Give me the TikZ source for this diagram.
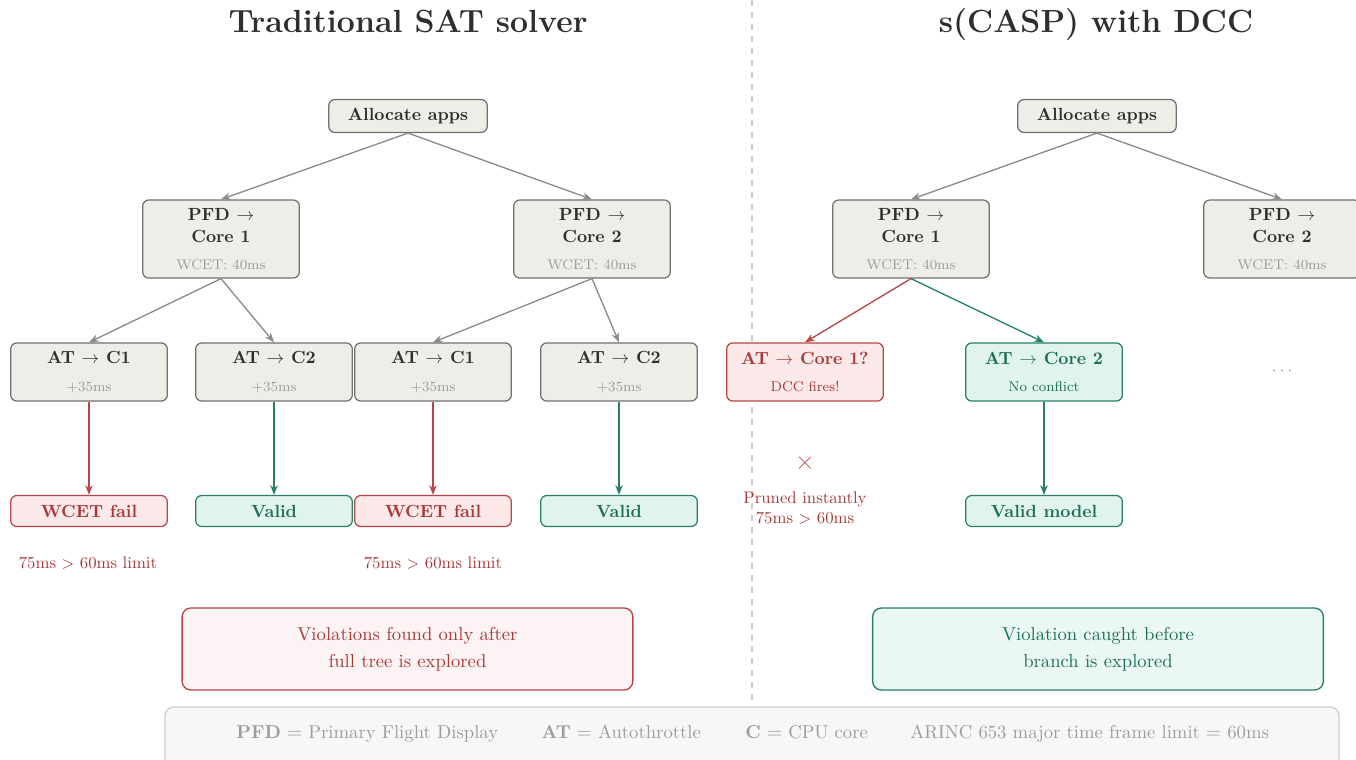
\documentclass[tikz,border=0pt]{standalone}
\usetikzlibrary{arrows.meta}

\definecolor{nodefill}{HTML}{EFEDE7}
\definecolor{nodedraw}{HTML}{707070}
\definecolor{edgegray}{HTML}{8A8A8A}
\definecolor{ink}{HTML}{2E2E2E}
\definecolor{faint}{HTML}{9C9C9C}
\definecolor{badred}{HTML}{A83838}
\definecolor{badline}{HTML}{B84545}
\definecolor{badfill}{HTML}{FBE8E8}
\definecolor{badpale}{HTML}{FCF4F4}
\definecolor{goodgreen}{HTML}{1C6F58}
\definecolor{goodline}{HTML}{24806A}
\definecolor{goodfill}{HTML}{E1F3ED}
\definecolor{goodpale}{HTML}{EAF7F2}
\definecolor{legendfill}{HTML}{F8F7F5}
\definecolor{legendline}{HTML}{CFCFCF}
\definecolor{divider}{HTML}{CCCCCC}

\newcommand\subfont{\fontsize{8}{9.5}\selectfont\mdseries}

\tikzset{
  box/.style={draw=nodedraw, fill=nodefill, rounded corners=3.5pt, line width=0.7pt,
    minimum width=89pt, inner sep=0pt, align=center, text=ink, font=\bfseries},
  pfdbox/.style={box, minimum height=44.3pt},
  atbox/.style={box, minimum height=33pt},
  rootbox/.style={box, minimum width=90pt, minimum height=18.7pt},
  failbox/.style={box, draw=badline, fill=badfill, text=badred, minimum height=17.6pt},
  okbox/.style={box, draw=goodline, fill=goodfill, text=goodgreen, minimum height=17.6pt},
  edge/.style={draw=edgegray, line width=0.75pt, -{Stealth[length=5.5pt,width=4.2pt]}},
  badedge/.style={edge, draw=badline},
  okedge/.style={edge, draw=goodline},
  note/.style={font=\fontsize{9.5}{11.5}\selectfont, text=badred, align=center, inner sep=0pt},
  summary/.style={rounded corners=5pt, line width=0.75pt, minimum width=256pt,
    minimum height=46.6pt, align=center, font=\fontsize{10.6}{12.5}\selectfont, inner sep=0pt},
  legtext/.style={anchor=base west, text=faint, inner sep=0pt, font=\fontsize{10.6}{12.5}\selectfont},
  heading/.style={font=\fontsize{18.2}{22}\selectfont\bfseries, text=ink, inner sep=0pt, anchor=base}
}

\newcommand\pfdlabel[1]{PFD $\rightarrow$\\[0.5pt]Core #1\\[3pt]{\subfont\color{faint}WCET: 40ms}}
\newcommand\atlabel[1]{AT $\rightarrow$ C#1\\[3.5pt]{\subfont\color{faint}+35ms}}

\begin{document}
\begin{tikzpicture}[x=0.568pt, y=-0.568pt]
\useasboundingbox (0,0) rectangle (1356,760);

% divider between the two halves
\draw[divider, line width=0.6pt, dash pattern=on 3.4pt off 3.4pt] (752,0) -- (752,700);

% headings
\node[heading] (hl) at (408,33) {Traditional SAT solver};
\node[heading] (hr) at (1096,33) {s(CASP) with DCC};

% ---------- traditional search tree ----------
\node[rootbox] (la) at (408,116) {Allocate apps};
\node[pfdbox] (lp1) at (221,239) {\pfdlabel{1}};
\node[pfdbox] (lp2) at (592,239) {\pfdlabel{2}};
\node[atbox] (l11) at (89,372) {\atlabel{1}};
\node[atbox] (l12) at (274,372) {\atlabel{2}};
\node[atbox] (l21) at (433,372) {\atlabel{1}};
\node[atbox] (l22) at (619,372) {\atlabel{2}};
\node[failbox] (lf1) at (89,511) {WCET fail};
\node[okbox] (lv1) at (274,511) {Valid};
\node[failbox] (lf2) at (433,511) {WCET fail};
\node[okbox] (lv2) at (619,511) {Valid};
\node[note] (ln1) at (88,563) {75ms $>$ 60ms limit};
\node[note] (ln2) at (433,563) {75ms $>$ 60ms limit};

\draw[edge] (la.south) -- (lp1.north);
\draw[edge] (la.south) -- (lp2.north);
\draw[edge] (lp1.south) -- (l11.north);
\draw[edge] (lp1.south) -- (l12.north);
\draw[edge] (lp2.south) -- (l21.north);
\draw[edge] (lp2.south) -- (l22.north);
\draw[badedge] (l11.south) -- (lf1.north);
\draw[okedge] (l12.south) -- (lv1.north);
\draw[badedge] (l21.south) -- (lf2.north);
\draw[okedge] (l22.south) -- (lv2.north);

\node[summary, draw=badline, fill=badpale, text=badred] (ls) at (407.5,649)
  {Violations found only after\\[3pt]full tree is explored};

% ---------- s(CASP) search with DCC ----------
\node[rootbox] (ra) at (1097,116) {Allocate apps};
\node[pfdbox] (rp1) at (911,239) {\pfdlabel{1}};
\node[pfdbox] (rp2) at (1282,239) {\pfdlabel{2}};
\node[box, draw=badline, fill=badfill, text=badred, minimum height=33pt] (rbad) at (805,372)
  {AT $\rightarrow$ Core 1?\\[3.5pt]{\subfont DCC fires!}};
\node[box, draw=goodline, fill=goodfill, text=goodgreen, minimum height=33pt] (rgood) at (1044,372)
  {AT $\rightarrow$ Core 2\\[3.5pt]{\subfont No conflict}};
\node[text=faint, inner sep=0pt] (rdots) at (1282,372) {$\cdots$};
\node[text=badline!85, inner sep=0pt, font=\Large] (rx) at (805,463) {$\times$};
\node[note] (rpr) at (805,508) {Pruned instantly\\75ms $>$ 60ms};
\node[okbox] (rv) at (1044,511) {Valid model};

\draw[edge] (ra.south) -- (rp1.north);
\draw[edge] (ra.south) -- (rp2.north);
\draw[badedge] (rp1.south) -- (rbad.north);
\draw[okedge] (rp1.south) -- (rgood.north);
\draw[okedge] (rgood.south) -- (rv.north);

\node[summary, draw=goodline, fill=goodpale, text=goodgreen] (rs) at (1098,649)
  {Violation caught before\\[3pt]branch is explored};

% ---------- legend ----------
\draw[draw=legendline, fill=legendfill, line width=0.75pt, rounded corners=5pt]
  (165,707) rectangle (1339,790);
\node[legtext] (k1) at (236,738) {\textbf{PFD} $=$ Primary Flight Display};
\node[legtext] (k2) at (541,738) {\textbf{AT} $=$ Autothrottle};
\node[legtext] (k3) at (745,738) {\textbf{C} $=$ CPU core};
\node[legtext] (k4) at (910,738) {ARINC 653 major time frame limit $=$ 60ms};
\end{tikzpicture}
\end{document}
